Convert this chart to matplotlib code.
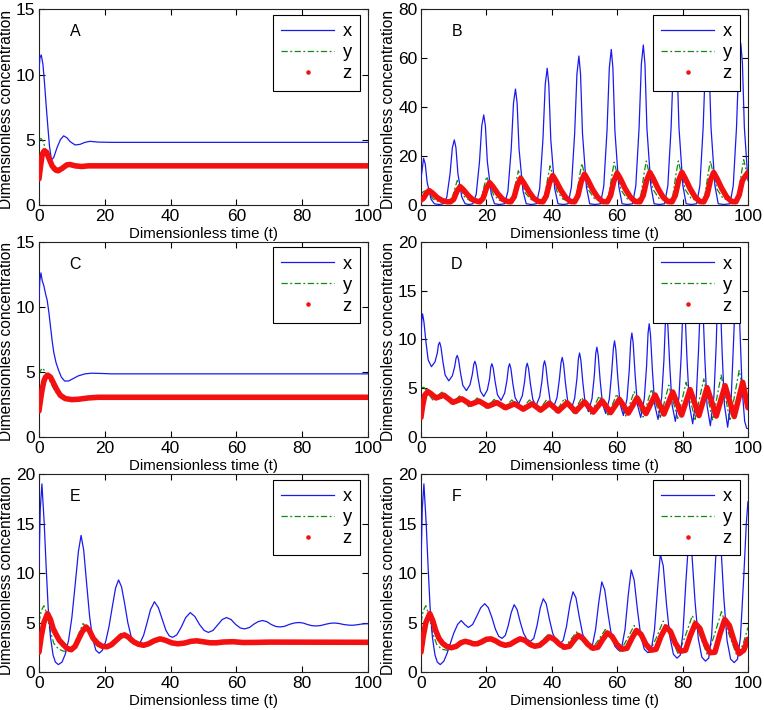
import matplotlib
matplotlib.use("Agg")
import matplotlib.pyplot as plt
from matplotlib.lines import Line2D

plt.rcParams['font.family'] = ['Liberation Sans', 'DejaVu Sans']

# ---------------- Panel A ----------------
tA_x = [0, 0.3, 0.7, 1.2, 1.7, 2.2, 2.7, 3.2, 3.8, 4.5, 5.5, 6.5, 7.5, 8.5, 9.5, 11, 12.5, 14, 15.5, 18, 22, 100]
xA = [10.3, 11.3, 11.5, 10.8, 9.3, 7.6, 6.0, 4.5, 3.45, 3.65, 4.4, 5.0, 5.3, 5.15, 4.85, 4.6, 4.65, 4.8, 4.88, 4.82, 4.8, 4.8]
tA_y = [0, 0.6, 1.2, 2.0, 3.0, 4.0, 5.0, 6.0, 7.5, 9.0, 11, 13, 16, 100]
yA = [5.0, 5.1, 4.9, 4.3, 3.4, 2.75, 2.5, 2.6, 2.95, 3.1, 3.05, 2.97, 3.0, 3.0]
tA_z = [0, 0.5, 1.0, 1.6, 2.3, 3.0, 4.0, 5.0, 5.8, 7.0, 8.5, 9.5, 11, 13, 15, 100]
zA = [2.0, 3.0, 3.9, 4.15, 4.05, 3.6, 3.0, 2.7, 2.62, 2.8, 3.08, 3.1, 3.0, 2.95, 3.0, 3.0]

# ---------------- Panel B ----------------
tB_x = [0, 0.8, 1.3, 1.9, 3.1, 4.1, 5.5,
        6.9, 7.9, 8.9, 9.6, 10.2, 10.7, 11.3, 12.5, 13.5, 14.7,
        15.9, 16.9, 17.9, 18.6, 19.2, 19.7, 20.3, 21.5, 22.5, 24.0,
        25.6, 26.6, 27.6, 28.3, 28.9, 29.4, 30.0, 31.2, 32.2, 33.8,
        35.3, 36.3, 37.3, 38.0, 38.6, 39.1, 39.7, 40.9, 41.9, 43.5,
        45.0, 46.0, 47.0, 47.7, 48.3, 48.8, 49.4, 50.6, 51.6, 53.2,
        54.9, 55.9, 56.9, 57.6, 58.2, 58.7, 59.3, 60.5, 61.5, 63.1,
        64.7, 65.7, 66.7, 67.4, 68.0, 68.5, 69.1, 70.3, 71.3, 72.9,
        74.5, 75.5, 76.5, 77.2, 77.8, 78.3, 78.9, 80.1, 81.1, 82.7,
        84.3, 85.3, 86.3, 87.0, 87.6, 88.1, 88.7, 89.9, 90.9, 92.7,
        94.5, 95.5, 96.5, 97.2, 97.8, 98.3, 98.9, 100]
xB = [10.5, 19.1, 16.8, 9.2, 2.3, 0.5, 0.2,
      0.5, 3.2, 12.8, 23.4, 26.6, 23.4, 12.8, 3.2, 0.5, 0.2,
      0.5, 4.4, 17.7, 32.4, 36.8, 32.4, 17.7, 4.4, 0.5, 0.2,
      0.5, 5.7, 22.8, 41.7, 47.4, 41.7, 22.8, 5.7, 0.5, 0.2,
      0.5, 6.7, 26.8, 49.2, 55.9, 49.2, 26.8, 6.7, 0.5, 0.2,
      0.5, 7.3, 29.2, 53.6, 60.9, 53.6, 29.2, 7.3, 0.5, 0.2,
      0.5, 7.6, 30.5, 56.0, 63.6, 56.0, 30.5, 7.6, 0.5, 0.2,
      0.5, 7.8, 31.4, 57.6, 65.4, 57.6, 31.4, 7.8, 0.5, 0.2,
      0.5, 7.9, 31.7, 58.1, 66.0, 58.1, 31.7, 7.9, 0.5, 0.2,
      0.5, 7.9, 31.7, 58.1, 66.0, 58.1, 31.7, 7.9, 0.5, 0.2,
      0.5, 7.9, 31.7, 58.2, 66.1, 58.2, 31.7, 10.0]
tB_y = [0, 0.8, 1.6, 2.5, 3.8, 5.5,
        7.9, 9.4, 10.4, 11.1, 11.9, 13.2, 15.0,
        16.9, 18.4, 19.4, 20.1, 20.9, 22.2, 24.0,
        26.6, 28.1, 29.1, 29.8, 30.6, 31.9, 33.7,
        36.3, 37.8, 38.8, 39.5, 40.3, 41.6, 43.4,
        46.0, 47.5, 48.5, 49.2, 50.0, 51.3, 53.1,
        55.9, 57.4, 58.4, 59.1, 59.9, 61.2, 63.0,
        65.7, 67.2, 68.2, 68.9, 69.7, 71.0, 72.8,
        75.5, 77.0, 78.0, 78.7, 79.5, 80.8, 82.6,
        85.3, 86.8, 87.8, 88.5, 89.3, 90.6, 92.4,
        95.5, 97.0, 98.0, 98.7, 99.5, 100]
yB = [4.5, 5.5, 6.0, 4.5, 2.3, 1.3,
      1.3, 2.0, 7.0, 10.0, 7.5, 3.5, 1.7,
      1.3, 2.3, 8.1, 11.6, 8.7, 4.1, 1.9,
      1.3, 2.8, 9.8, 14.0, 10.5, 4.9, 2.2,
      1.3, 3.2, 11.2, 16.0, 12.0, 5.6, 2.4,
      1.3, 3.4, 11.9, 17.0, 12.8, 6.0, 2.5,
      1.3, 3.5, 12.3, 17.5, 13.1, 6.1, 2.6,
      1.3, 3.6, 12.6, 18.0, 13.5, 6.3, 2.7,
      1.3, 3.6, 12.6, 18.0, 13.5, 6.3, 2.7,
      1.3, 3.6, 12.6, 18.0, 13.5, 6.3, 2.7,
      1.3, 3.7, 13.0, 18.5, 13.9, 11.5]
tB_z = [0, 0.8, 1.6, 2.5, 3.5, 5.0, 6.5, 8.0,
        9.0, 10.0, 11.0, 12.0, 13.0, 14.5, 16.0, 17.5,
        18.0, 19.0, 20.0, 21.0, 22.0, 23.5, 25.0, 26.5,
        27.5, 28.5, 29.5, 30.5, 31.5, 33.0, 34.5, 36.0,
        37.3, 38.3, 39.3, 40.3, 41.3, 42.8, 44.3, 45.8,
        47.0, 48.0, 49.0, 50.0, 51.0, 52.5, 54.0, 55.5,
        57.0, 58.0, 59.0, 60.0, 61.0, 62.5, 64.0, 65.5,
        67.0, 68.0, 69.0, 70.0, 71.0, 72.5, 74.0, 75.5,
        76.8, 77.8, 78.8, 79.8, 80.8, 82.3, 83.8, 85.3,
        86.5, 87.5, 88.5, 89.5, 90.5, 92.0, 93.5, 95.0,
        96.3, 97.3, 98.3, 99.3, 100]
zB = [2.0, 2.8, 4.6, 5.9, 4.9, 3.0, 1.8, 1.3,
      1.3, 2.3, 5.6, 7.5, 6.2, 3.8, 2.0, 1.4,
      1.3, 2.7, 6.8, 9.1, 7.5, 4.6, 2.3, 1.4,
      1.3, 3.3, 8.2, 10.9, 8.9, 5.5, 2.7, 1.4,
      1.3, 3.6, 9.0, 12.0, 9.8, 6.0, 3.0, 1.4,
      1.3, 3.8, 9.5, 12.6, 10.3, 6.3, 3.2, 1.4,
      1.3, 3.9, 9.8, 13.0, 10.7, 6.5, 3.3, 1.4,
      1.3, 4.0, 10.0, 13.3, 10.9, 6.7, 3.3, 1.4,
      1.3, 4.0, 10.0, 13.3, 10.9, 6.7, 3.3, 1.4,
      1.3, 4.0, 10.0, 13.3, 10.9, 6.7, 3.3, 1.4,
      1.3, 4.0, 10.0, 12.0, 13.3]

# ---------------- Panel C ----------------
tC_x = [0, 0.25, 0.6, 1.0, 1.5, 2.0, 2.5, 3.0, 3.5, 4.0, 4.5, 5.2, 6.0, 6.8, 7.8, 9.0, 10.5, 12, 14, 16, 19, 22, 100]
xC = [10.5, 12.0, 12.6, 12.0, 11.6, 11.0, 10.5, 9.6, 8.5, 7.4, 6.5, 5.7, 5.1, 4.6, 4.3, 4.3, 4.5, 4.7, 4.85, 4.9, 4.88, 4.85, 4.85]
tC_y = [0, 0.5, 1.0, 1.7, 2.5, 3.5, 4.5, 5.5, 7.0, 9.0, 11, 14, 18, 100]
yC = [4.8, 5.1, 5.3, 5.1, 4.7, 4.2, 3.7, 3.3, 2.95, 2.8, 2.85, 2.95, 3.05, 3.05]
tC_z = [0, 0.5, 1.0, 1.5, 2.0, 2.7, 3.5, 4.5, 5.5, 6.5, 8.0, 10, 12, 15, 18, 22, 100]
zC = [2.0, 2.9, 3.7, 4.3, 4.6, 4.75, 4.6, 4.1, 3.6, 3.2, 2.95, 2.87, 2.9, 3.0, 3.05, 3.05, 3.05]

# ---------------- Panel D ----------------
tD_x = [0, 0.25, 0.5, 0.9, 1.5, 2.2, 3.2,
        4.3, 5.0, 5.35, 5.7, 6.1, 6.7, 7.4, 8.5,
        9.6, 10.3, 10.75, 11.1, 11.5, 12.1, 12.8, 13.9,
        15.0, 15.7, 16.15, 16.5, 16.9, 17.5, 18.2, 19.2,
        20.3, 21.0, 21.35, 21.7, 22.1, 22.7, 23.4, 24.5,
        25.6, 26.3, 26.75, 27.1, 27.5, 28.1, 28.8, 29.9,
        31.0, 31.7, 32.15, 32.5, 32.9, 33.5, 34.2, 35.2,
        36.3, 37.0, 37.45, 37.8, 38.2, 38.8, 39.5, 40.5,
        41.6, 42.3, 42.85, 43.2, 43.6, 44.2, 44.9, 45.9,
        47.0, 47.7, 48.15, 48.5, 48.9, 49.5, 50.2, 51.2,
        52.3, 53.0, 53.45, 53.8, 54.2, 54.8, 55.5, 56.5,
        57.6, 58.3, 58.85, 59.2, 59.6, 60.2, 60.9, 61.9,
        63.0, 63.7, 64.15, 64.5, 64.9, 65.5, 66.2, 67.2,
        68.3, 69.0, 69.45, 69.8, 70.2, 70.8, 71.5, 72.5,
        73.6, 74.3, 74.75, 75.1, 75.5, 76.1, 76.8, 77.8,
        78.9, 79.6, 80.05, 80.4, 80.8, 81.4, 82.1, 83.1,
        84.2, 84.9, 85.45, 85.8, 86.2, 86.8, 87.5, 88.5,
        89.6, 90.3, 90.75, 91.1, 91.5, 92.1, 92.8, 93.8,
        94.9, 95.6, 96.25, 96.6, 97.0, 97.5, 98.2, 99.0, 99.6, 100]
xD = [10.2, 12.0, 12.6, 11.8, 9.8, 7.9, 7.2,
      7.7, 8.6, 9.45, 9.7, 9.23, 7.73, 6.34, 5.75,
      6.27, 7.18, 8.09, 8.35, 7.92, 6.55, 5.29, 4.75,
      5.35, 6.4, 7.45, 7.75, 7.32, 5.95, 4.69, 4.15,
      4.82, 5.99, 7.17, 7.5, 7.05, 5.63, 4.31, 3.75,
      4.5, 5.81, 7.13, 7.5, 7.01, 5.45, 4.02, 3.4,
      4.23, 5.68, 7.14, 7.55, 7.03, 5.38, 3.85, 3.2,
      4.12, 5.73, 7.34, 7.8, 7.22, 5.4, 3.72, 3.0,
      4.03, 5.83, 7.64, 8.15, 7.51, 5.48, 3.6, 2.8,
      3.96, 5.99, 8.02, 8.6, 7.88, 5.6, 3.5, 2.6,
      3.92, 6.23, 8.54, 9.2, 8.38, 5.8, 3.42, 2.4,
      3.89, 6.5, 9.1, 9.85, 8.93, 6.03, 3.35, 2.2,
      3.89, 6.85, 9.8, 10.65, 9.61, 6.33, 3.3, 2.0,
      3.92, 7.28, 10.64, 11.6, 10.42, 6.7, 3.27, 1.8,
      4.0, 7.85, 11.7, 12.8, 11.43, 7.2, 3.28, 1.6,
      4.08, 8.42, 12.76, 14.0, 12.48, 7.68, 3.25, 1.35,
      4.12, 8.97, 13.82, 15.2, 13.56, 8.18, 3.2, 1.15,
      4.2, 9.54, 14.88, 16.4, 14.55, 8.7, 3.31, 1.0,
      4.2, 9.8, 15.4, 17.0, 15.0, 11.5, 5.0, 1.6, 0.9, 0.85]
tD_y = [0, 0.9, 3.6, 6.4, 9.2, 11.8, 14.6, 17.2, 19.9, 22.4, 25.2, 27.8, 30.6, 33.2, 35.9, 38.5,
        41.2, 43.9, 46.6, 49.2, 51.9, 54.5, 57.2, 59.9, 62.6, 65.2, 67.9, 70.5, 73.2, 75.8,
        78.5, 81.1, 83.8, 86.5, 89.2, 91.8, 94.5, 97.3, 100]
yD = [5.0, 5.1, 3.8, 4.6, 3.4, 4.2, 3.1, 4.0, 2.95, 3.85, 2.85, 3.8, 2.75, 3.8, 2.65, 3.85,
      2.55, 3.95, 2.45, 4.05, 2.35, 4.2, 2.25, 4.4, 2.15, 4.65, 2.05, 4.9, 2.0, 5.3,
      1.9, 5.6, 1.8, 5.95, 1.7, 6.35, 1.65, 6.8, 2.6]
tD_z = [0, 0.5, 1.2, 2.1, 3.0, 4.6, 7.0, 9.8, 12.5, 15.2, 17.8, 20.5, 23.2, 25.9, 28.6, 31.3,
        34.0, 36.6, 39.3, 42.0, 44.7, 47.3, 50.0, 52.7, 55.4, 58.0, 60.7, 63.4, 66.1, 68.8,
        71.6, 74.3, 77.0, 79.7, 82.3, 85.0, 87.5, 90.3, 93.0, 95.8, 98.4, 100]
zD = [2.0, 3.2, 4.3, 4.65, 4.45, 4.0, 4.28, 3.55, 3.9, 3.35, 3.68, 3.15, 3.52, 3.0, 3.4, 2.85,
      3.4, 2.75, 3.45, 2.65, 3.5, 2.6, 3.6, 2.55, 3.7, 2.5, 3.85, 2.45, 4.0, 2.4,
      4.3, 2.35, 4.6, 2.25, 4.85, 2.2, 5.05, 2.15, 5.25, 2.1, 5.6, 3.0]

# ---------------- Panel E ----------------
tE_x = [0, 0.4, 0.9, 1.6, 2.2, 2.8, 3.5, 4.3, 5.0, 5.9, 7.0, 8.0, 9.0, 10.0, 11.0, 12.0, 12.8,
        13.6, 14.5, 15.4, 16.3, 17.3, 18.3, 19.3, 20.3, 21.3, 22.3, 23.3, 24.2, 25.1, 26.0,
        27.0, 28.0, 28.9, 29.8, 30.8, 31.8, 32.8, 33.9, 35.1, 36.3, 37.5, 38.6, 39.6, 40.6,
        41.9, 43.2, 44.6, 46.0, 47.4, 48.8, 50.2, 51.5, 52.9, 54.3, 55.7, 57.0, 58.4, 59.8,
        61.2, 62.5, 64.0, 65.4, 66.7, 68.0, 69.3, 70.6, 72.0, 73.3, 74.7, 76.2, 77.6, 79.0,
        80.3, 81.6, 83.0, 84.3, 85.7, 87.1, 88.5, 89.8, 91.2, 92.6, 94.0, 95.2, 96.5, 97.8,
        99.0, 100]
xE = [10.5, 16.5, 19.0, 15.0, 10.5, 6.5, 3.5, 1.7, 1.0, 0.75, 1.0, 1.8, 3.2, 5.5, 8.8, 12.2, 13.8,
      12.3, 8.9, 5.6, 3.4, 2.2, 1.9, 2.2, 3.1, 4.6, 6.6, 8.5, 9.3, 8.6, 7.0,
      5.0, 3.6, 2.95, 2.8, 3.0, 3.7, 4.9, 6.3, 7.1, 6.5, 5.3, 4.2, 3.65, 3.5,
      3.75, 4.5, 5.5, 6.0, 5.6, 4.8, 4.2, 4.0, 4.2, 4.75, 5.3, 5.5, 5.3, 4.8,
      4.45, 4.35, 4.5, 4.85, 5.1, 5.2, 5.08, 4.8, 4.6, 4.55, 4.62, 4.82, 4.95, 5.0,
      4.95, 4.8, 4.68, 4.65, 4.7, 4.82, 4.92, 4.95, 4.9, 4.8, 4.74, 4.72, 4.76, 4.83,
      4.87, 4.88]
tE_y = [0, 0.7, 1.5, 2.3, 3.3, 4.5, 6.0, 7.5, 9.0, 10.5, 12.0, 13.4, 14.6, 16.0, 17.8, 19.5,
        21.5, 23.3, 24.9, 26.3, 28.0, 30.0, 32.0, 34.2, 35.9, 37.6, 39.5, 41.5, 43.5, 45.3,
        47.0, 49.0, 51.0, 53.0, 55.0, 58.0, 61.0, 64.0, 68.0, 75.0, 100]
yE = [5.0, 6.2, 6.7, 6.0, 4.3, 2.9, 2.3, 2.1, 2.1, 2.6, 3.8, 4.9, 4.4, 3.3, 2.6, 2.4,
      2.6, 3.3, 3.9, 3.6, 2.95, 2.65, 2.75, 3.2, 3.45, 3.25, 2.9, 2.8, 2.9, 3.15,
      3.22, 3.05, 2.92, 2.93, 3.05, 3.1, 2.97, 2.97, 3.03, 3.0, 3.0]
tE_z = [0, 0.7, 1.5, 2.6, 3.5, 4.3, 5.2, 6.2, 7.3, 8.5, 9.8, 11.0, 12.0, 13.2, 14.3, 15.3,
        16.5, 17.8, 19.2, 20.7, 22.0, 23.5, 24.8, 26.0, 27.3, 28.8, 30.3, 31.8, 33.3, 35.0,
        36.8, 38.5, 40.3, 42.2, 44.2, 46.2, 48.0, 50.0, 52.0, 54.0, 56.0, 59.0, 62.0, 66.0,
        70.0, 100]
zE = [2.0, 3.6, 5.0, 5.9, 5.3, 4.4, 3.8, 3.2, 2.8, 2.4, 2.25, 2.6, 3.3, 4.1, 4.55, 4.2,
      3.4, 2.9, 2.6, 2.55, 2.75, 3.2, 3.6, 3.75, 3.5, 3.05, 2.8, 2.7, 2.85, 3.15,
      3.35, 3.2, 2.95, 2.85, 2.92, 3.1, 3.15, 3.05, 2.95, 2.95, 3.03, 3.06, 2.98, 2.99,
      3.02, 3.0]

# ---------------- Panel F ----------------
tF_x = [0, 0.4, 0.9, 1.6, 2.2, 2.8, 3.5, 4.3, 5.0, 5.9, 7.0, 8.0, 9.0, 10.0, 11.2, 12.3, 13.4,
        14.5, 15.8, 17.0, 18.3, 19.5, 20.6, 21.7, 22.8, 23.8, 24.8, 25.8, 26.7, 27.6, 28.5,
        29.4, 30.4, 31.4, 32.4, 33.5, 34.5, 35.5, 36.5, 37.4, 38.3, 39.3, 40.3, 41.4, 42.5,
        43.5, 44.5, 45.6, 46.5, 47.4, 48.4, 49.4, 50.4, 51.5, 52.5, 53.4, 54.4, 55.3, 56.2,
        57.2, 58.2, 59.3, 60.4, 61.4, 62.4, 63.4, 64.3, 65.2, 66.2, 67.2, 68.3, 69.4, 70.4,
        71.4, 72.4, 73.2, 74.1, 75.1, 76.1, 77.2, 78.3, 79.3, 80.1, 81.0, 81.9, 82.8, 83.8,
        84.8, 85.9, 87.0, 88.0, 88.9, 89.8, 90.7, 91.6, 92.6, 93.6, 94.7, 95.8, 96.8, 97.7,
        98.7, 99.5, 100]
xF = [10.5, 16.5, 19.0, 15.0, 10.5, 6.5, 3.5, 1.7, 1.0, 0.75, 1.1, 1.9, 2.9, 3.9, 4.8, 5.2, 4.8,
      4.5, 4.8, 5.6, 6.5, 6.9, 6.5, 5.5, 4.3, 3.6, 3.4, 3.7, 4.7, 6.0, 6.8,
      6.3, 5.0, 3.9, 3.3, 3.1, 3.4, 4.7, 6.5, 7.4, 6.9, 5.3, 3.9, 3.1, 2.85,
      3.2, 4.6, 6.9, 8.1, 7.5, 5.6, 3.9, 2.9, 2.5, 2.8, 4.3, 7.1, 9.1, 8.3,
      5.9, 3.8, 2.6, 2.2, 2.5, 4.3, 7.8, 10.3, 9.3, 6.3, 3.7, 2.3, 1.95, 2.2,
      4.2, 8.6, 11.9, 10.7, 6.8, 3.6, 1.8, 1.4, 1.7, 3.9, 9.0, 13.5, 12.2, 7.2,
      3.4, 1.5, 1.1, 1.4, 3.7, 9.4, 15.0, 13.5, 7.6, 3.2, 1.3, 0.95, 1.3, 3.5,
      9.5, 15.0, 17.2]
tF_y = [0, 0.7, 1.5, 2.4, 3.5, 4.8, 6.3, 8.0, 10.2, 11.8, 13.0, 14.5, 16.5, 18.8, 21.0, 23.0,
        25.2, 27.6, 29.9, 32.0, 34.2, 36.5, 38.8, 41.0, 43.2, 45.4, 47.6, 49.8, 52.0, 54.2,
        56.4, 58.6, 60.9, 63.0, 65.2, 67.4, 69.8, 71.9, 74.1, 76.3, 78.7, 80.8, 83.0, 85.2,
        87.6, 89.7, 91.9, 94.1, 96.6, 98.5, 100]
yF = [5.0, 6.2, 6.7, 5.8, 4.0, 2.8, 2.3, 2.2, 2.55, 3.0, 3.2, 3.0, 2.7, 2.95, 3.35, 3.0,
      2.55, 2.95, 3.45, 3.0, 2.4, 3.0, 3.75, 3.1, 2.3, 3.1, 4.05, 3.2, 2.2, 3.2,
      4.3, 3.3, 2.05, 3.3, 4.7, 3.4, 1.95, 3.4, 5.15, 3.6, 1.8, 3.6, 5.7, 3.8,
      1.7, 3.7, 6.1, 3.9, 1.65, 2.8, 4.5]
tF_z = [0, 0.7, 1.5, 2.7, 3.6, 4.5, 5.5, 6.6, 7.8, 9.3, 10.8, 12.2, 13.5, 14.8, 16.0, 17.2,
        18.6, 20.0, 21.4, 22.8, 24.3, 25.8, 27.3, 28.8, 30.3, 31.8, 33.3, 34.8, 36.3, 37.8,
        39.3, 40.8, 42.4, 43.9, 45.4, 46.8, 48.1, 49.5, 51.0, 52.6, 54.1, 55.6, 57.0, 58.4,
        59.9, 61.5, 63.0, 64.5, 65.9, 67.3, 68.8, 70.4, 71.9, 73.4, 74.9, 76.3, 77.8, 79.4,
        80.9, 82.4, 83.9, 85.3, 86.8, 88.4, 89.9, 91.4, 92.9, 94.3, 95.8, 97.3, 98.7, 100]
zF = [2.0, 3.6, 5.0, 5.9, 5.2, 4.2, 3.4, 2.9, 2.6, 2.45, 2.6, 2.95, 3.1, 3.0, 2.85, 2.85,
      3.05, 3.3, 3.35, 3.15, 2.85, 2.7, 2.8, 3.1, 3.35, 3.2, 2.8, 2.6, 2.7, 3.1,
      3.55, 3.3, 2.8, 2.5, 2.6, 3.2, 3.7, 3.4, 2.8, 2.4, 2.5, 3.3, 3.95, 3.6,
      2.8, 2.3, 2.4, 3.4, 4.2, 3.8, 2.8, 2.2, 2.3, 3.6, 4.55, 4.1, 2.9, 2.1,
      2.2, 3.7, 4.9, 4.4, 3.0, 1.95, 2.0, 3.8, 5.3, 4.7, 3.1, 1.85, 2.2, 3.3]

# ---------------- Layout / style ----------------
letters = ["A", "B", "C", "D", "E", "F"]
y_max = [15, 80, 15, 20, 20, 20]
y_step = [5, 20, 5, 5, 5, 5]
x_ticks = [0, 20, 40, 60, 80, 100]
series = [
    (tA_x, xA, tA_y, yA, tA_z, zA),
    (tB_x, xB, tB_y, yB, tB_z, zB),
    (tC_x, xC, tC_y, yC, tC_z, zC),
    (tD_x, xD, tD_y, yD, tD_z, zD),
    (tE_x, xE, tE_y, yE, tE_z, zE),
    (tF_x, xF, tF_y, yF, tF_z, zF),
]
positions = [
    [0.0510, 0.7113, 0.4306, 0.2756],
    [0.5510, 0.7113, 0.4280, 0.2756],
    [0.0510, 0.3845, 0.4306, 0.2751],
    [0.5510, 0.3845, 0.4280, 0.2751],
    [0.0510, 0.0535, 0.4306, 0.2789],
    [0.5510, 0.0535, 0.4280, 0.2789],
]

BLUE = '#1a1aee'
GREEN = '#108a10'
RED = '#f41010'
DASHDOT = (0, (5, 2, 1.5, 2))

fig = plt.figure(figsize=(7.64, 7.10), dpi=100)
fig.patch.set_facecolor('white')

for i, (tx, x, ty, y, tz, z) in enumerate(series):
    ax = fig.add_axes(positions[i])
    ax.plot(tx, x, color=BLUE, lw=0.9, zorder=3)
    ax.plot(ty, y, color=GREEN, lw=0.9, linestyle=DASHDOT, zorder=2)
    ax.plot(tz, z, color=RED, lw=4.0, solid_joinstyle='round', solid_capstyle='round', zorder=4)
    ax.set_xlim(0, 100)
    ax.set_ylim(0, y_max[i])
    ax.set_xticks(x_ticks)
    ax.set_yticks(list(range(0, y_max[i] + 1, y_step[i])))
    ax.tick_params(direction='in', top=True, right=True, length=4, width=0.8,
                   labelsize=12.5)
    ax.tick_params(axis='x', pad=3)
    ax.tick_params(axis='y', pad=2.5)
    for s in ax.spines.values():
        s.set_linewidth(0.8)
        s.set_color('#222222')
    ax.set_xlabel('Dimensionless time (t)', fontsize=10.8)
    ax.set_ylabel('Dimensionless concentration', fontsize=11.2)
    ax.xaxis.set_label_coords(0.5, -0.112)
    ax.yaxis.set_label_coords(-0.077, 0.49)
    ax.text(0.11, 0.885, letters[i], transform=ax.transAxes, ha='center', va='center',
            fontsize=11.5)
    handles = [Line2D([], [], color=BLUE, lw=0.9),
               Line2D([], [], color=GREEN, lw=0.9, linestyle=DASHDOT),
               Line2D([], [], color=RED, marker='.', linestyle='none', markersize=4.5)]
    leg = ax.legend(handles, ['x', 'y', 'z'], loc='upper right',
                    bbox_to_anchor=(0.976, 0.971), borderaxespad=0, fontsize=13.2,
                    frameon=True, fancybox=False, edgecolor='black', framealpha=1,
                    handlelength=2.9, handletextpad=0.45, labelspacing=0.22, borderpad=0.45)
    leg.get_frame().set_linewidth(0.8)
    leg.set_zorder(10)

fig.savefig('out.png', dpi=100)
